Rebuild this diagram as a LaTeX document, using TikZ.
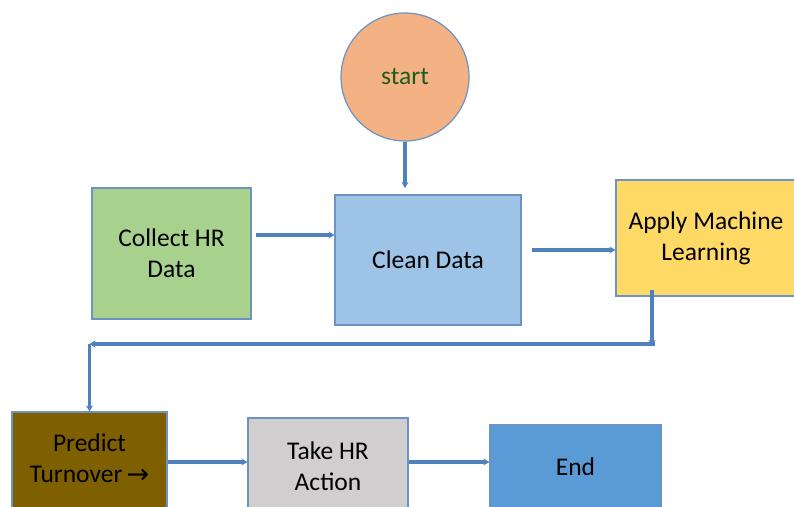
\documentclass[tikz,border=0pt]{standalone}
\usepackage{fontspec}
\setmainfont{Carlito}
\usetikzlibrary{arrows.meta}
\definecolor{edgeblue}{HTML}{4F81BD}
\definecolor{boxline}{HTML}{6C93C4}
\definecolor{startfill}{HTML}{F4B183}
\definecolor{cleanfill}{HTML}{9DC3E6}
\definecolor{collectfill}{HTML}{A9D18E}
\definecolor{mlfill}{HTML}{FFD966}
\definecolor{predictfill}{HTML}{7F6000}
\definecolor{actionfill}{HTML}{D0CECE}
\definecolor{endfill}{HTML}{5B9BD5}
\definecolor{starttext}{HTML}{1D5C1D}
\tikzset{
  labelfont/.style={font=\fontsize{25.5}{31}\selectfont},
  flowbox/.style={draw=boxline, line width=1.2pt, inner sep=0pt, align=center, labelfont},
  conn/.style={draw=edgeblue, line width=3.4pt, -{Stealth[length=6pt,width=7pt]}},
  plain/.style={draw=edgeblue, line width=3.4pt},
}
\begin{document}
\begin{tikzpicture}[x=1pt,y=-1pt]
\useasboundingbox (0,0) rectangle (794,506);
\clip (0,0) rectangle (794,506);
% process steps
\node[flowbox, circle, fill=startfill, minimum size=128pt, text=starttext] (start) at (405,77) {start};
\node[flowbox, fill=collectfill, minimum width=159pt, minimum height=131pt] (collect) at (171.5,253.5) {Collect HR\\Data};
\node[flowbox, fill=cleanfill, minimum width=186pt, minimum height=130pt] (clean) at (428,260) {Clean Data};
\node[flowbox, fill=mlfill, minimum width=180pt, minimum height=116pt] (ml) at (706,238) {Apply Machine\\Learning};
\node[flowbox, fill=predictfill, minimum width=155pt, minimum height=120pt] (predict) at (89.5,472) {};
\node[labelfont, align=center] (predicttxt) at (89.5,459) {Predict\\Turnover\,\raisebox{-1pt}{\fontspec{DejaVu Sans}\fontsize{27}{31}\selectfont →}};
\node[flowbox, fill=actionfill, minimum width=160pt, minimum height=120pt] (action) at (328,478) {};
\node[labelfont, align=center] (actiontxt) at (328,466) {Take HR\\Action};
\node[flowbox, fill=endfill, minimum width=171pt, minimum height=110pt] (endbox) at (575.5,480) {};
\node[labelfont] (endtxt) at (575.5,467) {End};
% routing points of the connectors
\coordinate (ydown) at (0,188);
\coordinate (yrow1) at (0,235);
\coordinate (yrow2) at (0,250);
\coordinate (yback) at (0,344);
\coordinate (yrow3) at (0,462);
\coordinate (mlout) at (652,290);
\coordinate (turnR) at (mlout |- yback);
\coordinate (turnL) at (predict.north |- yback);
\coordinate (mid) at (403,344);
% connectors
\draw[conn] (start.south) -- (start.south |- ydown);
\draw[conn] ([xshift=4pt]collect.east |- yrow1) -- (clean.west |- yrow1);
\draw[conn] ([xshift=10pt]clean.east |- yrow2) -- (ml.west |- yrow2);
\draw[conn] (mlout) -- ([yshift=-2pt]turnR);
\draw[plain] ([xshift=3pt]turnR) -- (mid);
\draw[conn] (mid) -- (turnL);
\draw[conn] (turnL) -- (predict.north);
\draw[conn] (predict.east |- yrow3) -- (action.west |- yrow3);
\draw[conn] (action.east |- yrow3) -- (endbox.west |- yrow3);
\end{tikzpicture}
\end{document}
